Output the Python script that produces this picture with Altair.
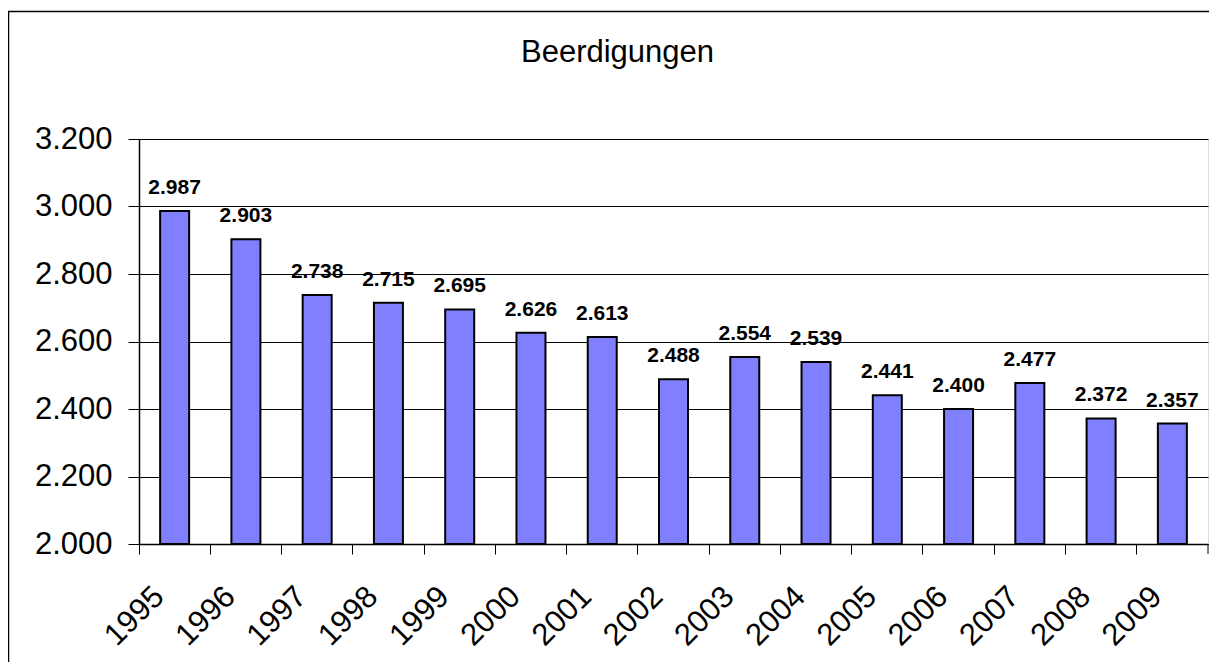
import altair as alt
import pandas as pd

years = ["1995", "1996", "1997", "1998", "1999", "2000", "2001", "2002",
         "2003", "2004", "2005", "2006", "2007", "2008", "2009"]
values = [2987, 2903, 2738, 2715, 2695, 2626, 2613, 2488,
          2554, 2539, 2441, 2400, 2477, 2372, 2357]
y_ticks = [2000, 2200, 2400, 2600, 2800, 3000, 3200]
title_text = "Beerdigungen"

W, H = 1069, 405
FONT = "Liberation Sans"

df = pd.DataFrame({"year": years, "value": values})

base = alt.Chart(df).transform_calculate(
    label="replace(format(datum.value, ',.0f'), ',', '.')"
)

x_enc = alt.X(
    "year:N",
    sort=years,
    scale=alt.Scale(paddingInner=0, paddingOuter=0),
    axis=alt.Axis(
        title=None,
        bandPosition=0,
        labelAngle=315,
        labelAlign="right",
        labelBaseline="top",
        labelOffset=-26,
        labelPadding=27,
        labelFont=FONT,
        labelFontSize=31,
        labelColor="black",
        tickSize=10,
        tickColor="black",
        domainColor="black",
        domainWidth=1.5,
        grid=False,
    ),
)

y_scale = alt.Scale(domain=[2000, 3200], zero=False, nice=False)

bars = base.mark_bar(size=29, fill="#8080FF", stroke="black", strokeWidth=2).encode(
    x=x_enc,
    y=alt.Y(
        "value:Q",
        scale=y_scale,
        axis=alt.Axis(
            title=None,
            values=y_ticks,
            labelExpr="replace(format(datum.value, ',.0f'), ',', '.')",
            labelFont=FONT,
            labelFontSize=31,
            labelColor="black",
            labelPadding=16,
            tickSize=11,
            tickColor="black",
            domainColor="black",
            domainWidth=1.5,
            grid=True,
            gridColor="black",
            gridWidth=1,
            gridOpacity=1,
        ),
    ),
    y2=alt.datum(2000),
)

labels = base.mark_text(
    font=FONT, fontSize=21, fontWeight="bold", color="black",
    baseline="alphabetic", align="center", dy=-17,
).encode(
    x=alt.X("year:N", sort=years),
    y=alt.Y("value:Q", scale=y_scale),
    text="label:N",
)

end_tick = alt.Chart(pd.DataFrame({"k": [0]})).mark_rule(
    color="black", strokeWidth=1
).encode(
    x=alt.value(W), y=alt.value(H), y2=alt.value(H + 10),
)

border = alt.Chart(pd.DataFrame({"k": [0]})).mark_rect(
    fill=None, stroke="black", strokeWidth=1.5
).encode(
    x=alt.value(-130.5), x2=alt.value(W + 60),
    y=alt.value(-127.5), y2=alt.value(H + 200),
)

chart = alt.layer(bars, labels, end_tick, border).properties(
    width=W,
    height=H,
    padding={"left": 131, "top": 131, "right": 1, "bottom": 118},
    autosize=alt.AutoSizeParams(type="none"),
    title=alt.TitleParams(
        title_text, font=FONT, fontSize=31, fontWeight="normal",
        color="black", anchor="middle", dx=-56, offset=-82,
        baseline="alphabetic",
    ),
).configure_view(
    fill="#C0C0C0", stroke="#808080", strokeWidth=2
).configure(background="white")

chart.save("out.html", embed_options={"renderer": "svg", "actions": False})
